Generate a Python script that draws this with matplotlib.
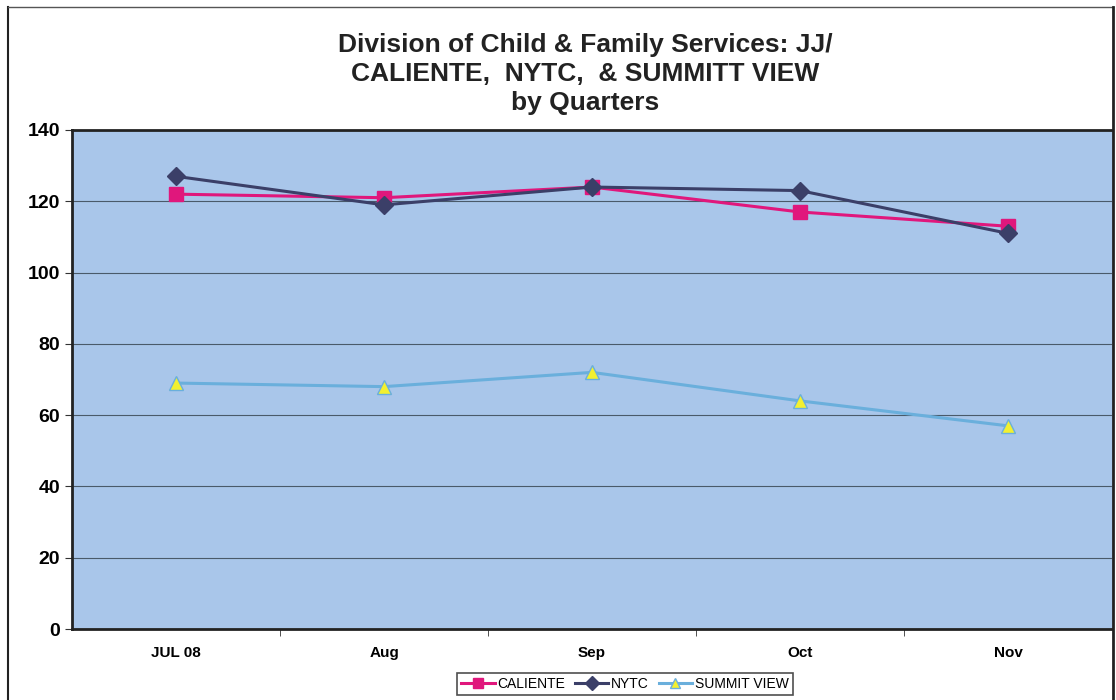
import matplotlib
matplotlib.use('Agg')
import matplotlib.pyplot as plt
from matplotlib.lines import Line2D

# data
months = ['JUL 08', 'Aug', 'Sep', 'Oct', 'Nov']
caliente = [122, 121, 124, 117, 113]
nytc = [127, 119, 124, 123, 111]
summit = [69, 68, 72, 64, 57]

plt.rcParams['font.family'] = ['Liberation Sans', 'DejaVu Sans']

fig = plt.figure(figsize=(11.16, 7.0), dpi=100)
ax = fig.add_axes([72 / 1116, 71 / 700, 1040 / 1116, 499 / 700])
ax.set_facecolor('#a9c6ea')

x = list(range(len(months)))
ax.plot(x, caliente, color='#e0177c', lw=2.2, marker='s', ms=9.5,
        mfc='#e0177c', mec='#e0177c', label='CALIENTE', zorder=3)
ax.plot(x, nytc, color='#3b3f68', lw=2.2, marker='D', ms=9.5,
        mfc='#3b3f68', mec='#3b3f68', label='NYTC', zorder=4)
ax.plot(x, summit, color='#6aafdc', lw=2.2, marker='^', ms=10,
        mfc='#f2f030', mec='#6aafdc', label='SUMMIT VIEW', zorder=3)

ax.set_xlim(-0.5, len(months) - 0.5)
ax.set_ylim(0, 140)
ax.set_yticks(range(0, 141, 20))
ax.grid(axis='y', color='#4a5a6a', lw=0.8)
ax.set_axisbelow(True)

ax.set_xticks(x)
ax.set_xticklabels(months, fontsize=11, fontweight='bold')
ax.tick_params(axis='x', which='major', length=0, pad=12)
ax.set_xticks([i + 0.5 for i in x[:-1]], minor=True)
ax.tick_params(axis='x', which='minor', length=5, color='#333333')
ax.tick_params(axis='y', length=5, labelsize=14, color='#333333')
for lab in ax.get_yticklabels():
    lab.set_fontweight('bold')

for side in ['top', 'left', 'bottom']:
    ax.spines[side].set_color('#222222')
    ax.spines[side].set_linewidth(2)
ax.spines['right'].set_color('#a9c6ea')

fig.text(585 / 1116, 1 - 74 / 700,
         'Division of Child & Family Services: JJ/\nCALIENTE,  NYTC,  & SUMMITT VIEW\nby Quarters',
         ha='center', va='center', fontsize=19, fontweight='bold',
         linespacing=1.24, color='#222222')

leg = ax.legend(loc='center', bbox_to_anchor=(625 / 1116, 1 - 684 / 700),
                bbox_transform=fig.transFigure, ncol=3, fontsize=10,
                frameon=True, fancybox=False, edgecolor='#222222',
                handlelength=2.4, handletextpad=0.2, columnspacing=0.7,
                borderpad=0.3, markerscale=0.75)
leg.get_frame().set_linewidth(1.2)

# outer chart frame
fig.add_artist(Line2D([8 / 1116, 8 / 1116], [0, 1 - 7 / 700], transform=fig.transFigure, color='#222222', lw=1.5))
fig.add_artist(Line2D([8 / 1116, 1113 / 1116], [1 - 7 / 700, 1 - 7 / 700], transform=fig.transFigure, color='#555555', lw=1))
fig.add_artist(Line2D([1113 / 1116, 1113 / 1116], [0, 1 - 7 / 700], transform=fig.transFigure, color='#222222', lw=2))

fig.savefig('out.png', dpi=100)
